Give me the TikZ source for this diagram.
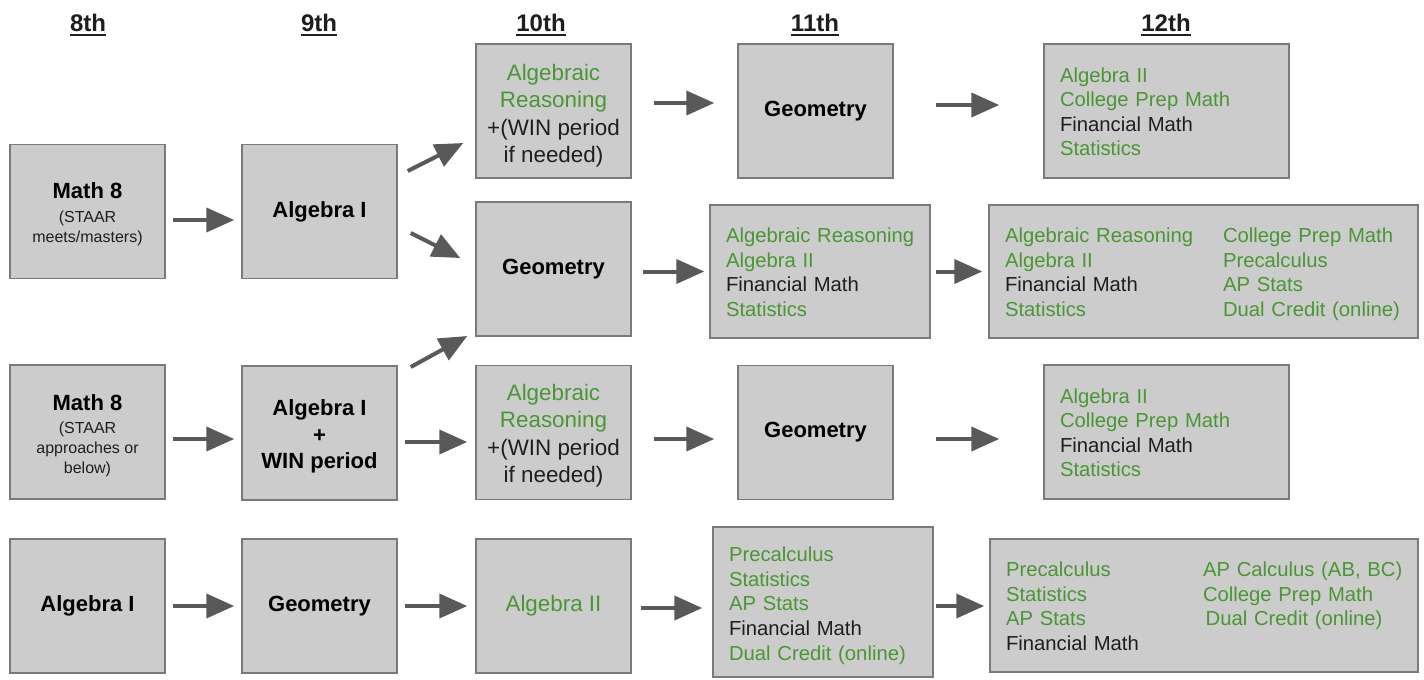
\documentclass[tikz,border=0pt]{standalone}
\usepackage{fontspec}
\setmainfont{Liberation Sans}
\usepackage{xcolor}
\usetikzlibrary{arrows.meta}
\definecolor{boxfill}{RGB}{204,204,204}
\definecolor{boxline}{RGB}{122,122,122}
\definecolor{arrowgray}{RGB}{89,89,89}
\definecolor{coursegreen}{RGB}{74,150,52}
\definecolor{coursetext}{RGB}{30,30,30}

\newcommand{\grn}[1]{\textcolor{coursegreen}{#1}}
\newcommand{\bigbold}{\fontsize{16.5}{20}\selectfont\bfseries}
\newcommand{\smallnote}{\fontsize{12}{15}\selectfont}
\newcommand{\listfont}{\fontsize{15.2}{18.4}\selectfont}
\newcommand{\arfont}{\fontsize{16.8}{20.5}\selectfont}
\newcommand{\gradeul}[1]{{\setbox0\hbox{#1}\rlap{\rule[-3.2pt]{\wd0}{1.3pt}}\box0}}
\newcommand{\lift}{\rule{0pt}{17.5pt}}

\tikzset{
  course/.style={draw=boxline, line width=1.1pt, fill=boxfill, minimum width=116.25pt,
    minimum height=100.5pt, inner sep=0pt, text=coursetext},
  corebox/.style={course, font=\bigbold, align=center, text=black},
  optlist/.style={course, font=\listfont, align=left, inner xsep=12pt, inner ysep=0pt},
  flow/.style={draw=arrowgray, line width=3pt, -{Triangle[length=21pt,width=18pt]}},
  gradelabel/.style={font=\fontsize{18}{20}\selectfont\bfseries, text=coursetext},
}

\begin{document}
\begin{tikzpicture}[x=0.75pt,y=-0.75pt]
            \useasboundingbox (0,0) rectangle (1424,679);

            % Grade headings
            \node[gradelabel] (g8) at (88,25) {\gradeul{8th}};
            \node[gradelabel] (g9) at (319,25) {\gradeul{9th}};
            \node[gradelabel] (g10) at (541,25) {\gradeul{10th}};
            \node[gradelabel] (g11) at (815,25) {\gradeul{11th}};
            \node[gradelabel] (g12) at (1166,25) {\gradeul{12th}};

            % Grade 8
            \node[corebox, font=\smallnote] (m8a) at (87.5,211.5) {\rule{0pt}{16pt}{\bigbold Math 8}\\[3.5pt]{\color{coursetext}(STAAR}\\{\color{coursetext}meets/masters)}};
            \node[corebox, font=\smallnote] (m8c) at (87.5,432) {\rule{0pt}{17pt}{\bigbold Math 8}\\[2.5pt]{\color{coursetext}(STAAR}\\{\color{coursetext}approaches or}\\{\color{coursetext}below)}};
            \node[corebox] (alg1d) at (87.5,606) {Algebra I};

            % Grade 9
            \node[corebox] (alg1a) at (319.5,211.5) {Algebra I};
            \node[corebox] (alg1c) at (319.5,433) {\rule{0pt}{17pt}Algebra I\\+\\WIN period};
            \node[corebox] (geo9d) at (319.5,606) {Geometry};

            % Grade 10
            \node[corebox, font=\arfont, text=coursetext] (ar1) at (553.5,111) {\rule{0pt}{19pt}\grn{Algebraic}\\\grn{Reasoning}\\+(WIN period\\if needed)};
            \node[corebox] (geo10) at (553.5,269) {Geometry};
            \node[corebox, font=\arfont, text=coursetext] (ar3) at (553.5,432.5) {\rule{0pt}{17pt}\grn{Algebraic}\\\grn{Reasoning}\\+(WIN period\\if needed)};
            \node[corebox, font=\arfont] (alg2) at (553.5,606) {\grn{Algebra II}};

            % Grade 11
            \node[corebox] (geo11a) at (815.5,111) {Geometry};
            \node[optlist, minimum width=165pt, minimum height=99.75pt, text width=141pt] (mix11b) at (820,271.5)
              {\begin{tabular}{@{}l@{}}
                \lift\grn{Algebraic Reasoning}\\ \grn{Algebra II}\\ Financial Math\\ \grn{Statistics}
              \end{tabular}};
            \node[corebox] (geo11c) at (815.5,432.5) {Geometry};
            \node[optlist, minimum width=165pt, minimum height=112.5pt, text width=141pt] (mix11d) at (823,602)
              {\begin{tabular}{@{}l@{}}
                \rule{0pt}{19pt}\grn{Precalculus}\\ \grn{Statistics}\\ \grn{AP Stats}\\ Financial Math\\ \grn{Dual Credit (online)}
              \end{tabular}};

            % Grade 12
            \node[optlist, minimum width=183.75pt, text width=159.75pt] (opt12a) at (1166.5,111)
              {\begin{tabular}{@{}l@{}}
                \lift\grn{Algebra II}\\ \grn{College Prep Math}\\ Financial Math\\ \grn{Statistics}
              \end{tabular}};
            \node[optlist, minimum width=321.75pt, minimum height=99.75pt, text width=297.75pt] (opt12b) at (1203.5,271.5)
              {\begin{tabular}{@{}p{163.5pt}@{}l@{}}
                \lift\grn{Algebraic Reasoning} & \grn{College Prep Math}\\
                \grn{Algebra II} & \grn{Precalculus}\\
                Financial Math & \grn{AP Stats}\\
                \grn{Statistics} & \grn{Dual Credit (online)}
              \end{tabular}};
            \node[optlist, minimum width=183.75pt, text width=159.75pt] (opt12c) at (1166.5,432)
              {\begin{tabular}{@{}l@{}}
                \lift\grn{Algebra II}\\ \grn{College Prep Math}\\ Financial Math\\ \grn{Statistics}
              \end{tabular}};
            \node[optlist, minimum width=321pt, minimum height=99.75pt, text width=297pt] (opt12d) at (1204,605.5)
              {\begin{tabular}{@{}p{147.75pt}@{}l@{}}
                \lift\grn{Precalculus} & \grn{AP Calculus (AB, BC)}\\
                \grn{Statistics} & \grn{College Prep Math}\\
                \grn{AP Stats} & \hspace{2pt}\grn{Dual Credit (online)}\\
                Financial Math &
              \end{tabular}};

            % Row 1 paths
            \draw[flow] ([shift={(7,8.5)}]m8a.east) -- ([shift={(-7,8.5)}]alg1a.west);
            \draw[flow] ([shift={(10,-40.5)}]alg1a.east) -- ([shift={(-12,32)}]ar1.west);
            \draw[flow] ([shift={(13,21.5)}]alg1a.east) -- ([shift={(-15,-11)}]geo10.west);
            \draw[flow] ([shift={(22,-8)}]ar1.east) -- ([shift={(-23,-8)}]geo11a.west);
            \draw[flow] ([shift={(42,-6)}]geo11a.east) -- ([shift={(-44,-6)}]opt12a.west);

            % Row 2 paths
            \draw[flow] ([shift={(11,2.5)}]geo10.east) -- ([shift={(-5,0)}]mix11b.west);
            \draw[flow] ([shift={(5,0)}]mix11b.east) -- ([shift={(-6,0)}]opt12b.west);

            % Row 3 paths
            \draw[flow] ([shift={(7,7)}]m8c.east) -- ([shift={(-7,6)}]alg1c.west);
            \draw[flow] ([shift={(13,-66)}]alg1c.east) -- ([shift={(-8,67)}]geo10.west);
            \draw[flow] ([shift={(7,9)}]alg1c.east) -- ([shift={(-8,9.5)}]ar3.west);
            \draw[flow] ([shift={(22,6.5)}]ar3.east) -- ([shift={(-23,6.5)}]geo11c.west);
            \draw[flow] ([shift={(42,6.5)}]geo11c.east) -- ([shift={(-44,7)}]opt12c.west);

            % Row 4 paths
            \draw[flow] ([shift={(7,0)}]alg1d.east) -- ([shift={(-7,0)}]geo9d.west);
            \draw[flow] ([shift={(7,0)}]geo9d.east) -- ([shift={(-8,0)}]alg2.west);
            \draw[flow] ([shift={(9,2)}]alg2.east) -- ([shift={(-10,6)}]mix11d.west);
            \draw[flow] ([shift={(2,4)}]mix11d.east) -- ([shift={(-5,0.5)}]opt12d.west);
        \end{tikzpicture}
\end{document}
